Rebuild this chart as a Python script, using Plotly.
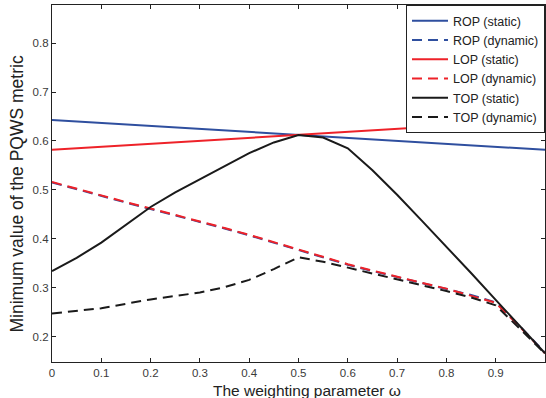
import plotly.graph_objects as go

omega = [0, 0.05, 0.1, 0.15, 0.2, 0.25, 0.3, 0.35, 0.4, 0.45, 0.5,
         0.55, 0.6, 0.65, 0.7, 0.75, 0.8, 0.85, 0.9, 0.95, 1.0]

rop_static = [0.643, 0.640, 0.637, 0.634, 0.631, 0.628, 0.625, 0.622, 0.619, 0.616, 0.613,
              0.610, 0.607, 0.604, 0.601, 0.598, 0.594, 0.591, 0.588, 0.585, 0.582]
lop_static = [0.582, 0.585, 0.588, 0.591, 0.594, 0.598, 0.601, 0.604, 0.607, 0.610, 0.613,
              0.616, 0.619, 0.622, 0.625, 0.628, 0.631, 0.634, 0.637, 0.640, 0.643]
rop_dynamic = [0.515, 0.501, 0.488, 0.474, 0.461, 0.448, 0.435, 0.421, 0.407, 0.392, 0.378,
               0.362, 0.347, 0.334, 0.322, 0.310, 0.298, 0.285, 0.270, 0.220, 0.167]
lop_dynamic = [0.516, 0.502, 0.489, 0.475, 0.462, 0.449, 0.436, 0.422, 0.408, 0.393, 0.379,
               0.363, 0.348, 0.335, 0.322, 0.310, 0.298, 0.284, 0.269, 0.219, 0.166]
top_static = [0.334, 0.361, 0.392, 0.428, 0.465, 0.495, 0.522, 0.549, 0.575, 0.597, 0.612,
              0.607, 0.585, 0.540, 0.490, 0.437, 0.384, 0.330, 0.275, 0.221, 0.166]
top_dynamic = [0.247, 0.252, 0.258, 0.267, 0.276, 0.283, 0.290, 0.301, 0.316, 0.338, 0.362,
               0.353, 0.341, 0.330, 0.318, 0.306, 0.293, 0.280, 0.264, 0.215, 0.165]

x_tickvals = [0, 0.1, 0.2, 0.3, 0.4, 0.5, 0.6, 0.7, 0.8, 0.9, 1.0]
x_ticktext = ["0", "0.1", "0.2", "0.3", "0.4", "0.5", "0.6", "0.7", "0.8", "0.9", "1"]
y_tickvals = [0.2, 0.3, 0.4, 0.5, 0.6, 0.7, 0.8]
y_ticktext = ["0.2", "0.3", "0.4", "0.5", "0.6", "0.7", "0.8"]

x_title = "The weighting parameter ω"
y_title = "Minimum value of the PQWS metric"

BLUE = "#2f4f9f"
RED = "#ee2229"
BLACK = "#1a1a1a"
DASH = "10px,6px"

series = [
    ("ROP (static)", rop_static, BLUE, "solid"),
    ("ROP (dynamic)", rop_dynamic, BLUE, DASH),
    ("LOP (static)", lop_static, RED, "solid"),
    ("LOP (dynamic)", lop_dynamic, RED, DASH),
    ("TOP (static)", top_static, BLACK, "solid"),
    ("TOP (dynamic)", top_dynamic, BLACK, DASH),
]

fig = go.Figure()
for name, ys, color, dash in series:
    fig.add_trace(go.Scatter(x=omega, y=ys, mode="lines", name=name,
                             line=dict(color=color, width=2, dash=dash)))

axis_common = dict(showline=True, linecolor="#222", linewidth=1.3, mirror="ticks",
                   ticks="inside", ticklen=4, tickcolor="#222", tickwidth=1,
                   showgrid=False, zeroline=False, automargin=False,
                   tickfont=dict(family="Liberation Sans, Arial", size=11.5, color="#3a3a3a"))

fig.update_layout(
    width=546, height=398,
    margin=dict(l=52, r=1, t=5, b=36, autoexpand=False),
    paper_bgcolor="white", plot_bgcolor="white",
    font=dict(family="Liberation Sans, Arial", color="#222"),
    xaxis=dict(range=[0, 1], tickvals=x_tickvals, ticktext=x_ticktext, **axis_common),
    yaxis=dict(range=[0.148, 0.878], tickvals=y_tickvals, ticktext=y_ticktext, **axis_common),
    legend=dict(x=1, y=1, xanchor="right", yanchor="top",
                bordercolor="#222", borderwidth=1, bgcolor="white",
                font=dict(size=12.5, color="#222"), itemwidth=36,
                tracegroupgap=0),
    showlegend=True,
    annotations=[
        dict(text=x_title, xref="paper", yref="paper", x=0.518, y=-0.08,
             xanchor="center", yanchor="middle", showarrow=False,
             font=dict(size=15.5, color="#222")),
        dict(text=y_title, xref="paper", yref="paper", x=-0.069, y=0.472,
             xanchor="center", yanchor="middle", showarrow=False, textangle=-90,
             font=dict(size=17.5, color="#222")),
    ],
)

fig.write_html("out.html", config={"displayModeBar": False},
               post_script="document.body.style.margin='0';")
